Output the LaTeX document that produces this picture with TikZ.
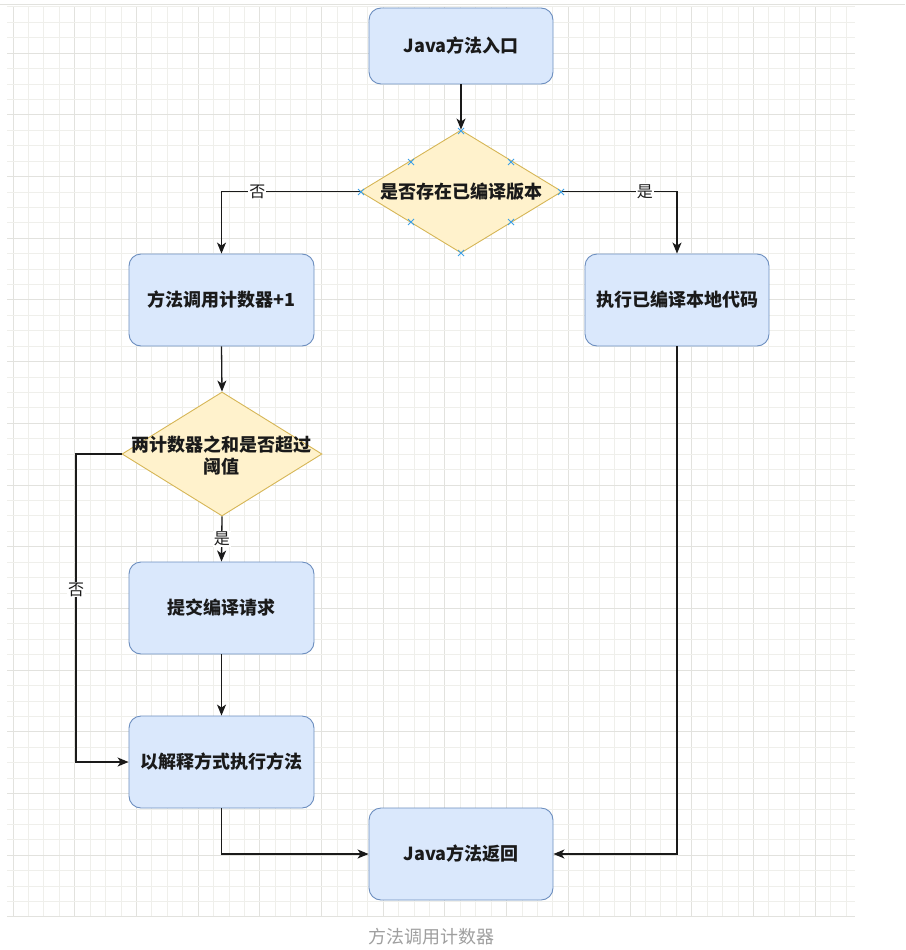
\documentclass[tikz,border=0pt]{standalone}
\usepackage{fontspec}
\setmainfont{Noto Sans CJK SC}
\usetikzlibrary{shapes.geometric,arrows.meta}
\definecolor{boxfill}{HTML}{DAE8FC}
\definecolor{boxline}{HTML}{6C8EBF}
\definecolor{dfill}{HTML}{FFF2CC}
\definecolor{dline}{HTML}{D6B656}
\definecolor{gmajor}{HTML}{E2E2DE}
\definecolor{gminor}{HTML}{EFEFEB}
\definecolor{mark}{HTML}{3EA0E6}
\definecolor{txt}{HTML}{1A1A1A}
\tikzset{
  procbox/.style={draw=boxline, fill=boxfill, line width=0.9pt, rounded corners=12pt,
    minimum width=185pt, minimum height=92pt, inner sep=0pt, text=txt,
    font=\fontsize{18}{21}\selectfont\bfseries},
  decbox/.style={draw=dline, fill=dfill, line width=0.9pt, shape=diamond,
    minimum width=202pt, minimum height=123pt, inner sep=0pt},
  dtext/.style={text=txt, align=center, font=\fontsize{18}{22}\selectfont\bfseries, inner sep=0pt},
  flow/.style={draw=txt, line width=1.3pt, -{Stealth[length=11pt,width=9pt,inset=3pt]}},
  elabel/.style={fill=white, inner sep=1pt, text=txt, font=\fontsize{16}{18}\selectfont},
  xmark/.style={draw=mark, line width=0.8pt}
}
\begin{document}
\begin{tikzpicture}[x=1pt,y=-1pt]
\useasboundingbox (0,0) rectangle (905,950);
\fill[white] (0,0) rectangle (905,950);
% top rule
\draw[gmajor, line width=0.8pt] (0,4.5) -- (905,4.5);
% grid
\begin{scope}
\clip (7,7) rectangle (855,916);
\foreach \i in {0,...,55} {
  \pgfmathsetmacro{\xx}{13+15.425*\i}
  \pgfmathtruncatemacro{\mm}{mod(\i,4)}
  \ifnum\mm=0
    \draw[gmajor, line width=0.9pt] (\xx,7) -- (\xx,916);
  \else
    \draw[gminor, line width=0.8pt] (\xx,7) -- (\xx,916);
  \fi
}
\foreach \j in {0,...,59} {
  \pgfmathsetmacro{\yy}{6.8+15.425*\j}
  \pgfmathtruncatemacro{\mm}{mod(\j+1,4)}
  \ifnum\mm=0
    \draw[gmajor, line width=0.9pt] (7,\yy) -- (855,\yy);
  \else
    \draw[gminor, line width=0.8pt] (7,\yy) -- (855,\yy);
  \fi
}
\end{scope}

% nodes
\node[procbox, minimum height=76pt, minimum width=184pt] (entry) at (461,46) {Java方法入口};
\node[decbox] (d1) at (461,191.5) {};
\node[dtext] (d1t) at (461,192) {是否存在已编译版本};
\node[procbox] (count) at (221.5,300) {方法调用计数器+1};
\node[procbox, minimum width=184pt] (native) at (677,300) {执行已编译本地代码};
\node[decbox, minimum width=200pt, minimum height=124pt] (d2) at (222,454) {};
\node[dtext] (d2t) at (221,456) {两计数器之和是否超过\\阈值};
\node[procbox] (submit) at (221.5,608) {提交编译请求};
\node[procbox] (interp) at (221.5,762) {以解释方式执行方法};
\node[procbox, minimum width=184pt] (ret) at (461,854) {Java方法返回};
\coordinate (c1) at (76,454);

% connectors
\draw[flow] (entry.south) -- (d1.north);
\draw[flow] (d1.west) -| node[elabel, pos=0.37] (no1) {否} (count.north);
\draw[flow] (d1.east) -| node[elabel, pos=0.36] (yes1) {是} (native.north);
\draw[flow] (count.south) -- (d2.north);
\draw[flow] (d2.south) -- node[elabel, pos=0.5] (yes2) {是} (submit.north);
\draw[flow] (d2.west) -- (c1) |- node[elabel, pos=0.22] (no2) {否} (interp.west);
\draw[flow] (submit.south) -- (interp.north);
\draw[flow] (interp.south) |- (ret.west);
\draw[flow] (native.south) |- (ret.east);

% connection point markers on the first decision
\foreach \p in {(461,131),(461,253),(361,192),(561,192),(411,162),(511,162),(411,222),(511,222)} {
  \draw[xmark] \p ++(-3,-3) -- ++(6,6);
  \draw[xmark] \p ++(-3,3) -- ++(6,-6);
}

% caption
\node[text=gray!75, font=\fontsize{18}{21}\selectfont, inner sep=0pt] (cap) at (431,937) {方法调用计数器};
\end{tikzpicture}
\end{document}
